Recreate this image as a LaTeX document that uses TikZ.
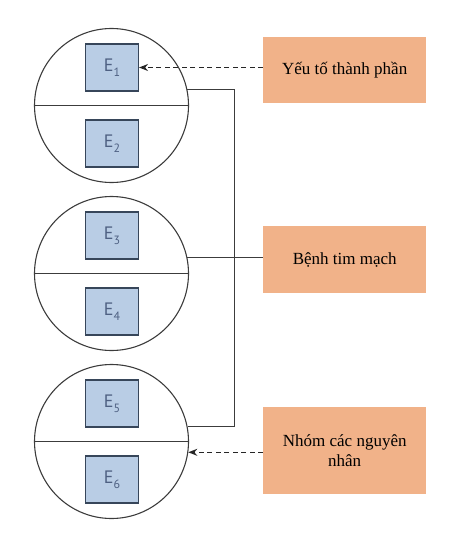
\documentclass[tikz,border=0pt]{standalone}
\usepackage{fontspec}
\setmainfont{Liberation Serif}
\newfontfamily\efont{PT Sans}
\usetikzlibrary{arrows.meta,calc}
\definecolor{orangebox}{RGB}{241,178,137}
\definecolor{bluebox}{RGB}{185,205,229}
\definecolor{blueborder}{RGB}{55,70,90}
\definecolor{etext}{RGB}{78,96,130}
\definecolor{linegray}{RGB}{60,60,60}
\newcommand{\elab}[1]{{\efont\fontsize{18}{18}\selectfont E\raisebox{-0.28em}{\fontsize{12}{12}\selectfont #1}}}
\begin{document}
\begin{tikzpicture}[x=1pt,y=-1pt,
  bigcirc/.style={circle,draw=linegray,line width=1.1pt,minimum size=154pt,inner sep=0pt},
  ebox/.style={rectangle,draw=blueborder,fill=bluebox,line width=1.1pt,minimum width=53pt,minimum height=47pt,inner sep=0pt,text=etext},
  obox/.style={rectangle,fill=orangebox,minimum width=163pt,inner sep=0pt,align=center,font=\fontsize{17}{20}\selectfont},
  conn/.style={draw=linegray,line width=1.1pt},
  darrow/.style={draw=black!85,line width=1.4pt,dash pattern=on 5pt off 3.5pt,-{Stealth[length=9pt,width=7pt]}}]
\useasboundingbox (0,0) rectangle (464,535);
% circles
\node[bigcirc] (c1) at (111.5,105.5) {};
\node[bigcirc] (c2) at (111.5,273.5) {};
\node[bigcirc] (c3) at (111.5,441.5) {};
\draw[conn] (c1.west) -- (c1.east);
\draw[conn] (c2.west) -- (c2.east);
\draw[conn] (c3.west) -- (c3.east);
% E boxes
\node[ebox] (e1) at (112,67.5) {\elab{1}};
\node[ebox] (e2) at (112,143.5) {\elab{2}};
\node[ebox] (e3) at (112,235.5) {\elab{3}};
\node[ebox] (e4) at (112,311.5) {\elab{4}};
\node[ebox] (e5) at (112,403.5) {\elab{5}};
\node[ebox] (e6) at (112,479.5) {\elab{6}};
% orange boxes
\node[obox,minimum height=66pt] (b1) at (344.7,69.7) {Yếu tố thành phần};
\node[obox,minimum height=67.3pt] (b2) at (344.7,259.5) {Bệnh tim mạch};
\node[obox,minimum height=87.3pt] (b3) at (344.7,450.4) {Nhóm các nguyên\\nhân};
% bus
\coordinate (j) at (234.5,0);
\draw[conn] (c1.12) -- (c1.12 -| j) -- (c3.11 -| j) -- (c3.11);
\draw[conn] (c2.12) -- (c2.12 -| b2.west);
% dashed arrows
\draw[darrow] (b1.west |- e1.east) -- (e1.east);
\draw[darrow] (b3.west |- c3.-8.2) -- (c3.-8.2);
\end{tikzpicture}
\end{document}
